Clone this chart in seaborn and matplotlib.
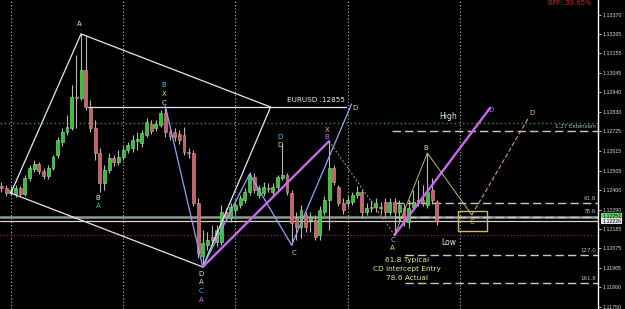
import matplotlib
matplotlib.use("Agg")
import matplotlib.pyplot as plt
import matplotlib.transforms as mtransforms
import numpy as np
import pandas as pd
import seaborn as sns

# EURUSD H1 candles (oldest first)
opens = [1.12421, 1.12410, 1.12381, 1.12376, 1.12410, 1.12376, 1.12465, 1.12515, 1.12543, 1.12503,
         1.12476, 1.12521, 1.12592, 1.12664, 1.12720, 1.12742, 1.12913, 1.12908, 1.13063, 1.12858,
         1.12742, 1.12603, 1.12437, 1.12509, 1.12576, 1.12554, 1.12581, 1.12620, 1.12631, 1.12669,
         1.12658, 1.12703, 1.12764, 1.12742, 1.12758, 1.12825, 1.12720, 1.12720, 1.12709, 1.12703,
         1.12609, 1.12603, 1.12326, 1.12033, 1.12093, 1.12138, 1.12110, 1.12110, 1.12277, 1.12244,
         1.12288, 1.12315, 1.12343, 1.12387, 1.12470, 1.12370, 1.12381, 1.12410, 1.12387, 1.12415,
         1.12465, 1.12481, 1.12381, 1.12244, 1.12193, 1.12260, 1.12232, 1.12232, 1.12149, 1.12277,
         1.12343, 1.12521, 1.12415, 1.12326, 1.12326, 1.12332, 1.12370, 1.12387, 1.12277, 1.12304,
         1.12304, 1.12299, 1.12332, 1.12277, 1.12332, 1.12277, 1.12299, 1.12221, 1.12304, 1.12332,
         1.12343, 1.12315, 1.12398, 1.12332]
closes = [1.12410, 1.12381, 1.12398, 1.12410, 1.12376, 1.12465, 1.12521, 1.12543, 1.12503, 1.12476,
          1.12521, 1.12581, 1.12675, 1.12720, 1.12747, 1.12913, 1.12908, 1.13063, 1.12858, 1.12742,
          1.12603, 1.12437, 1.12509, 1.12576, 1.12554, 1.12581, 1.12620, 1.12647, 1.12675, 1.12681,
          1.12714, 1.12775, 1.12725, 1.12764, 1.12825, 1.12720, 1.12698, 1.12692, 1.12675, 1.12609,
          1.12603, 1.12326, 1.12049, 1.12104, 1.12121, 1.12121, 1.12177, 1.12277, 1.12249, 1.12304,
          1.12315, 1.12354, 1.12387, 1.12481, 1.12398, 1.12410, 1.12415, 1.12404, 1.12415, 1.12470,
          1.12481, 1.12387, 1.12215, 1.12193, 1.12288, 1.12193, 1.12249, 1.12138, 1.12288, 1.12343,
          1.12521, 1.12443, 1.12326, 1.12288, 1.12343, 1.12370, 1.12387, 1.12277, 1.12299, 1.12299,
          1.12326, 1.12304, 1.12277, 1.12332, 1.12277, 1.12315, 1.12221, 1.12299, 1.12332, 1.12343,
          1.12326, 1.12387, 1.12343, 1.12227]
highs = [1.12443, 1.12426, 1.12421, 1.12426, 1.12421, 1.12481, 1.12537, 1.12565, 1.12554, 1.12521,
         1.12537, 1.12592, 1.12692, 1.12742, 1.12814, 1.12980, 1.13146, 1.13263, 1.13252, 1.12897,
         1.12786, 1.12631, 1.12537, 1.12603, 1.12592, 1.12620, 1.12642, 1.12664, 1.12703, 1.12720,
         1.12731, 1.12798, 1.12786, 1.12786, 1.12842, 1.12864, 1.12742, 1.12742, 1.12731, 1.12747,
         1.12631, 1.12620, 1.12354, 1.12177, 1.12166, 1.12204, 1.12204, 1.12315, 1.12299, 1.12326,
         1.12343, 1.12370, 1.12410, 1.12498, 1.12492, 1.12426, 1.12443, 1.12437, 1.12437, 1.12481,
         1.12658, 1.12492, 1.12398, 1.12277, 1.12315, 1.12277, 1.12277, 1.12260, 1.12310, 1.12365,
         1.12669, 1.12537, 1.12426, 1.12354, 1.12365, 1.12387, 1.12421, 1.12398, 1.12326, 1.12343,
         1.12354, 1.12332, 1.12354, 1.12354, 1.12354, 1.12343, 1.12326, 1.12343, 1.12398, 1.12454,
         1.12426, 1.12603, 1.12465, 1.12343]
lows = [1.12387, 1.12365, 1.12370, 1.12359, 1.12365, 1.12365, 1.12448, 1.12498, 1.12487, 1.12459,
        1.12459, 1.12509, 1.12576, 1.12642, 1.12703, 1.12731, 1.12742, 1.12897, 1.12842, 1.12720,
        1.12565, 1.12387, 1.12398, 1.12492, 1.12532, 1.12537, 1.12565, 1.12603, 1.12609, 1.12620,
        1.12636, 1.12692, 1.12709, 1.12725, 1.12747, 1.12692, 1.12675, 1.12669, 1.12653, 1.12592,
        1.12576, 1.12310, 1.12022, 1.11972, 1.12066, 1.12093, 1.12088, 1.12093, 1.12232, 1.12221,
        1.12266, 1.12299, 1.12326, 1.12370, 1.12381, 1.12354, 1.12365, 1.12387, 1.12370, 1.12398,
        1.12454, 1.12370, 1.12093, 1.12121, 1.12133, 1.12166, 1.12166, 1.12121, 1.12121, 1.12260,
        1.12177, 1.12426, 1.12310, 1.12266, 1.12304, 1.12315, 1.12354, 1.12244, 1.12260, 1.12277,
        1.12277, 1.12266, 1.12244, 1.12260, 1.12149, 1.12221, 1.12199, 1.12188, 1.12288, 1.12310,
        1.12310, 1.12299, 1.12321, 1.12204]

price_ticks = [1.13370, 1.13265, 1.13155, 1.13045, 1.12940, 1.12830, 1.12725, 1.12615,
               1.12505, 1.12400, 1.12290, 1.12185, 1.12075, 1.11965, 1.11860, 1.11750]
day_breaks = [2, 26, 50, 74, 98]
ask, bid = 1.12251, 1.12226
green_level, red_level = 1.12769, 1.12149

# drawn objects: (bar index, price)
box_x = [18.5, 73.7]
box_y = [1.12858, 1.12858]
wedge_x = [2, 17, 57.5, 43, 2]
wedge_y = [1.12381, 1.13263, 1.12858, 1.11972, 1.12381]
blue_x = [35, 43, 53, 62, 74.8]
blue_y = [1.12864, 1.11972, 1.12487, 1.12093, 1.12875]
purple1_x, purple1_y = [43, 70], [1.11972, 1.12669]
purple2_x, purple2_y = [84, 104.4], [1.12149, 1.12853]
xc_x, xc_y = [70, 84], [1.12669, 1.12149]
cb_x, cb_y = [84, 91, 100.5], [1.12149, 1.12603, 1.12260]
proj_x, proj_y = [100.5, 112.6], [1.12260, 1.12798]
zone_x = [97.5, 103.7]
zone_y = [1.12171, 1.12282]

fib_names = ["1.27 Extension", "61.8", "78.6", "127.0", "161.8"]
fib_levels = [1.12725, 1.12326, 1.12251, 1.12038, 1.11883]
fib_start = [83.4, 84.1, 84.1, 86.2, 86.2]

labels = [("A", 16.6, 1.13318, "#e8e8e8"),
          ("B", 34.7, 1.12980, "#38c8e8"), ("X", 34.7, 1.12930, "#e8e070"), ("C", 34.7, 1.12880, "#e8e8e8"),
          ("B", 20.6, 1.12354, "#e8e8e8"), ("A", 20.6, 1.12310, "#38c8e8"),
          ("D", 42.6, 1.11933, "#e8e8e8"), ("A", 42.6, 1.11889, "#e8e070"),
          ("C", 42.6, 1.11839, "#38c8e8"), ("A", 42.6, 1.11789, "#c070f0"),
          ("D", 59.5, 1.12692, "#38c8e8"), ("D", 59.5, 1.12648, "#e8e070"),
          ("X", 69.5, 1.12731, "#e8b070"), ("B", 69.5, 1.12692, "#c070f0"),
          ("D", 75.6, 1.12853, "#e8e070"), ("C", 62.5, 1.12049, "#e8e070"),
          ("C", 83.6, 1.12121, "#a0a0ff"), ("A", 83.6, 1.12077, "#e8e070"),
          ("B", 90.7, 1.12631, "#e8e070"), ("D", 104.6, 1.12842, "#c070f0"),
          ("D", 113.4, 1.12825, "#e8c070"), ("C", 100.5, 1.12221, "#c8c060")]
note_lines = ["61.8 Typical", "CD Intercept Entry", "78.6 Actual"]
note_y = [1.12011, 1.11961, 1.11911]

sns.set_theme(style="dark", rc={"axes.facecolor": "black", "figure.facecolor": "black",
                                "axes.edgecolor": "white", "axes.grid": False})
plt.rcParams['font.family'] = ['DejaVu Sans']

fig = plt.figure(figsize=(6.25, 3.09), dpi=100)
ax = fig.add_axes([0, 0, 598 / 625, 1])

df = pd.DataFrame({"i": np.arange(len(opens)), "o": opens, "h": highs, "l": lows, "c": closes})
up = df.c >= df.o
body = (df.c - df.o).abs().clip(lower=0.00002)

for b in day_breaks:
    ax.axvline(b, color="#bdbdbd", lw=0.8, ls=(0, (1, 2)), zorder=1)
ax.axhline(green_level, color="#2f9a2f", lw=1, ls=(0, (1, 2)), zorder=1)
ax.axhline(red_level, color="#b02828", lw=0.8, ls=(0, (1, 2)), zorder=1)

ax.vlines(df.i, df.l, df.h, color="#b8b8b8", lw=0.8, zorder=3)
ax.bar(df.i[up], body[up], bottom=df.o[up], width=0.62, color="#33c433",
       edgecolor="#8fe88f", lw=0.4, zorder=4)
ax.bar(df.i[~up], body[~up], bottom=df.c[~up], width=0.62, color="#c86262",
       edgecolor="#e09a9a", lw=0.4, zorder=4)

ax.axhline(ask, color="#8d9d8d", lw=1.8, zorder=2)
ax.axhline(bid, color="#e8d0d0", lw=0.9, zorder=2)

yt = mtransforms.blended_transform_factory(ax.transAxes, ax.transData)
for name, lvl, x0 in zip(fib_names, fib_levels, fib_start):
    ax.plot([x0, 127.4], [lvl, lvl], color="#c8c8c8", lw=1, ls=(0, (6, 3)), zorder=2)
    ax.text(0.997, lvl + 0.00012, name, transform=yt,
            ha="right", va="bottom", fontsize=4, color="#a8bcd8")

sns.lineplot(x=wedge_x, y=wedge_y, sort=False, estimator=None, color="#e8e8e8", lw=0.9, ax=ax, zorder=5)
sns.lineplot(x=box_x, y=box_y, sort=False, estimator=None, color="#e8e8e8", lw=0.9, ax=ax, zorder=5)
sns.lineplot(x=blue_x, y=blue_y, sort=False, estimator=None, color="#8aa4ff", lw=0.9, ax=ax, zorder=5)
sns.lineplot(x=purple1_x, y=purple1_y, sort=False, estimator=None, color="#cc66ee", lw=1.7, ax=ax, zorder=5)
sns.lineplot(x=purple2_x, y=purple2_y, sort=False, estimator=None, color="#cc66ee", lw=1.7, ax=ax, zorder=5)
sns.lineplot(x=xc_x, y=xc_y, sort=False, estimator=None, color="#c89860", lw=0.7, ls=(0, (2, 2)), ax=ax, zorder=5)
sns.lineplot(x=cb_x, y=cb_y, sort=False, estimator=None, color="#bcbc66", lw=0.7, ax=ax, zorder=5)
sns.lineplot(x=proj_x, y=proj_y, sort=False, estimator=None, color="#d0a060", lw=0.8, ls=(0, (4, 2)), ax=ax, zorder=5)
ax.add_patch(plt.Rectangle((zone_x[0], zone_y[0]), zone_x[1] - zone_x[0], zone_y[1] - zone_y[0],
                           fill=False, edgecolor="#c8c060", lw=1, zorder=5))

for txt, x, y, col in labels:
    ax.text(x, y, txt, color=col, fontsize=5, ha="center", va="center", zorder=6)
ax.text(73.5, 1.12897, "EURUSD .12855", color="#e8e8e8", fontsize=5.2, ha="right", va="center", zorder=6)
ax.text(97.3, 1.12803, "High", color="#e8e8e8", fontsize=5.5, ha="right", va="center", zorder=6)
ax.text(95.6, 1.12110, "Low", color="#e8e8e8", fontsize=5.5, ha="center", va="center", zorder=6)
for line, y in zip(note_lines, note_y):
    ax.text(86.7, y, line, color="#e8e890", fontsize=5.3, ha="center", va="center", zorder=6)
ax.text(0.953, 0.999, "BPF: 39.65%", transform=ax.transAxes, color="#e02020", fontsize=5,
        ha="center", va="top")

ax.set_xlim(-0.32, 127.46)
ax.set_ylim(1.11739, 1.13451)
ax.set_xticks([])
ax.yaxis.tick_right()
ax.set_yticks(price_ticks)
ax.set_yticklabels([f"{p:.5f}" for p in price_ticks], family="Liberation Sans")
ax.tick_params(axis="y", colors="#d8d8d8", labelsize=3.8, length=2.5, width=0.6, pad=1, direction="out")
for side in ["left", "top", "bottom"]:
    ax.spines[side].set_visible(False)
ax.spines["right"].set_color("white")
ax.spines["right"].set_linewidth(1)

ax.text(1.007, ask, f"{ask:.5f}", transform=yt, fontsize=3.8, family="Liberation Sans", color="black",
        va="center", ha="left", bbox=dict(boxstyle="square,pad=0.15", fc="#5fdc5f", ec="none"), clip_on=False)
ax.text(1.007, bid, f"{bid:.5f}", transform=yt, fontsize=3.8, family="Liberation Sans", color="black",
        va="center", ha="left", bbox=dict(boxstyle="square,pad=0.15", fc="#e8e8e8", ec="none"), clip_on=False)

fig.savefig("out.png", dpi=100, facecolor="black")
